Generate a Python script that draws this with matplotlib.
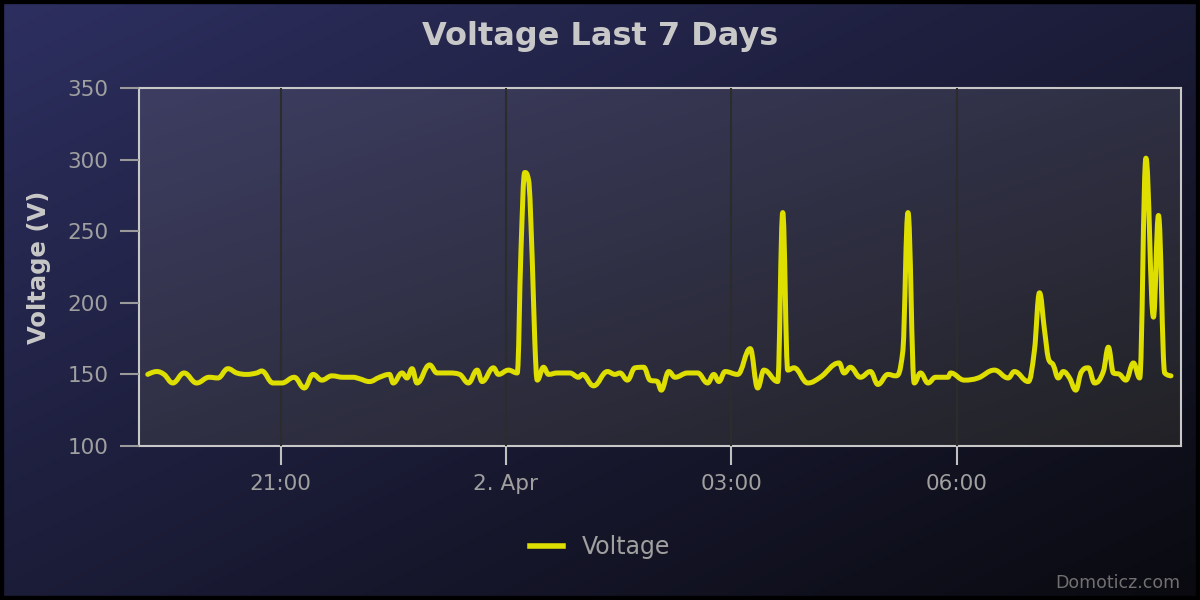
import numpy as np
import pandas as pd
import matplotlib
matplotlib.use('Agg')
import matplotlib.pyplot as plt
import matplotlib.dates as mdates
from matplotlib.colors import LinearSegmentedColormap
from matplotlib.patches import Rectangle, PathPatch
from matplotlib.path import Path

# minutes after 2019-04-01 19:00 and the reading at that time
minutes = [14, 21, 27, 34, 43, 53, 63, 70, 78, 85, 93, 101, 105, 114, 121, 131, 139, 146,
           153, 161, 170, 178, 183, 191, 199, 207, 210, 217, 221, 225, 229, 239, 245, 255,
           263, 270, 277, 281, 290, 294, 302, 309, 312, 315, 318, 321, 323, 325, 330, 334,
           341, 351, 358, 361, 370, 381, 387, 391, 397, 403, 410, 415, 421, 424, 430, 435,
           445, 453, 461, 466, 470, 475, 485, 495, 501, 506, 517, 521, 525, 530, 541, 551,
           566, 570, 575, 583, 591, 597, 605, 611, 617, 621, 626, 631, 637, 643, 653, 655,
           666, 677, 690, 701, 706, 717, 722, 726, 730, 733, 737, 741, 745, 750, 755, 759,
           765, 770, 777, 781, 785, 790, 795, 801, 806, 811, 817, 821, 826, 831]
voltage = [150, 152, 150, 144, 151, 144, 148, 147.5, 154, 151, 150, 151, 152.4, 144, 144, 148, 140.5, 150,
           146, 149, 148, 148, 147, 145, 148, 150, 144, 151, 147.5, 154, 144, 156.6, 151, 151,
           150, 144, 153, 145, 154.6, 150, 153, 151, 237, 291, 286, 230, 174, 146, 155, 150,
           151, 151, 148, 150, 142, 152, 150, 151, 146, 154.6, 155, 146, 145, 139, 152, 148,
           151, 151, 144, 150, 145, 152, 150, 168, 140.5, 153, 145, 263, 153, 154.6, 144, 148,
           158, 151, 155, 148, 152, 143, 150, 149, 167, 263, 144, 151, 144, 148, 148, 151,
           146, 147.5, 153, 147.5, 152, 145, 167, 207, 181, 161.5, 156.6, 147.5, 152, 147.5, 139, 151,
           154.6, 144, 152, 169, 151, 150, 146, 158, 147.5, 301, 190, 261, 151, 149]

start = pd.Timestamp('2019-04-01 19:00')
times = start + pd.to_timedelta(minutes, unit='m')
tick_times = [start + pd.Timedelta(hours=h) for h in (2, 5, 8, 11)]
y_ticks = [100, 150, 200, 250, 300, 350]

fig = plt.figure(figsize=(12, 6), dpi=100)

# page background gradient
bg = fig.add_axes([0, 0, 1, 1], zorder=-10)
gx, gy = np.meshgrid(np.linspace(0, 1, 300), np.linspace(0, 1, 150))
bg_cmap = LinearSegmentedColormap.from_list('bg', ['#2d2f60', '#0a0a10'])
bg.imshow((gx + gy) / 2, cmap=bg_cmap, aspect='auto', extent=[0, 1, 0, 1], origin='upper')
bg.axis('off')
fig.patches.append(Rectangle((0, 0), 1, 1, transform=fig.transFigure, fill=False,
                             edgecolor='black', linewidth=6))

ax = fig.add_axes([139 / 1200, 1 - 446 / 600, 1042 / 1200, 358 / 600])
ax.set_facecolor('none')
pa_cmap = LinearSegmentedColormap.from_list('pa', ['#3d3d62', '#222226'])
ax.imshow((gx + gy) / 2, cmap=pa_cmap, aspect='auto', extent=[0, 1, 0, 1],
          origin='upper', transform=ax.transAxes, zorder=0)


# spline-style line: bezier control points like a highcharts "spline" series
def spline_path(xs, ys, smooth=1.5):
    n = len(xs)
    lc = [(xs[0], ys[0])] * n
    rc = [(xs[0], ys[0])] * n
    for i in range(n):
        x, y = xs[i], ys[i]
        if i == 0 or i == n - 1:
            lc[i] = rc[i] = (x, y)
            continue
        lx, ly, nx, ny = xs[i - 1], ys[i - 1], xs[i + 1], ys[i + 1]
        d = smooth + 1
        lcx, lcy = (smooth * x + lx) / d, (smooth * y + ly) / d
        rcx, rcy = (smooth * x + nx) / d, (smooth * y + ny) / d
        if rcx != lcx:
            corr = (rcy - lcy) * (rcx - x) / (rcx - lcx) + y - rcy
            lcy += corr
            rcy += corr
            if lcy > ly and lcy > y:
                lcy = max(ly, y)
                rcy = 2 * y - lcy
            elif lcy < ly and lcy < y:
                lcy = min(ly, y)
                rcy = 2 * y - lcy
            if rcy > ny and rcy > y:
                rcy = max(ny, y)
                lcy = 2 * y - rcy
            elif rcy < ny and rcy < y:
                rcy = min(ny, y)
                lcy = 2 * y - rcy
        lc[i] = (lcx, lcy)
        rc[i] = (rcx, rcy)
    verts = [(xs[0], ys[0])]
    codes = [Path.MOVETO]
    for i in range(1, n):
        verts += [rc[i - 1], lc[i], (xs[i], ys[i])]
        codes += [Path.CURVE4] * 3
    return Path(verts, codes)


xs = mdates.date2num(times.to_pydatetime())
ys = np.array(voltage, dtype=float)
ax.add_patch(PathPatch(spline_path(xs, ys), fill=False, edgecolor='#dede00', lw=3.6,
                       joinstyle='round', capstyle='round', zorder=3))
ax.plot([], [], color='#dede00', lw=4, label='Voltage')

ax.set_xlim(start + pd.Timedelta(minutes=7), start + pd.Timedelta(minutes=839))
ax.set_ylim(100, 350)
ax.set_yticks(y_ticks)
ax.set_xticks(tick_times)


def fmt(x, pos):
    d = mdates.num2date(x)
    if d.hour == 0 and d.minute == 0:
        return f"{d.day}. {d.strftime('%b')}"
    return d.strftime('%H:%M')


ax.xaxis.set_major_formatter(plt.FuncFormatter(fmt))
ax.grid(True, axis='x', color='#2c2c2c', lw=1.5, zorder=1)
ax.grid(False, axis='y')
ax.set_axisbelow(False)

for s in ax.spines.values():
    s.set_color('#c8c8c8')
    s.set_linewidth(1.5)
ax.tick_params(axis='y', colors='#9a9a9a', labelsize=15.5, length=14, width=1.5, pad=8)
ax.tick_params(axis='x', colors='#c0c0c0', labelsize=15.5, length=14, width=1.5, pad=6)
ax.tick_params(axis='both', labelcolor='#a0a0a0')

ax.set_ylabel('Voltage (V)', color='#c8c8c8', fontsize=17.5, fontweight='bold', labelpad=12)
fig.text(0.5, 1 - 37 / 600, 'Voltage Last 7 Days', ha='center', va='center',
         color='#c8c8c8', fontsize=23, fontweight='bold')

leg = fig.legend(loc='center', bbox_to_anchor=(0.5, 1 - 547 / 600), frameon=False,
                 fontsize=17, handlelength=1.4, labelcolor='#a0a0a0')
fig.text(1180 / 1200, 1 - 583 / 600, 'Domoticz.com', ha='right', va='center',
         color='#707070', fontsize=12.5)

fig.savefig('out.png', dpi=100)
